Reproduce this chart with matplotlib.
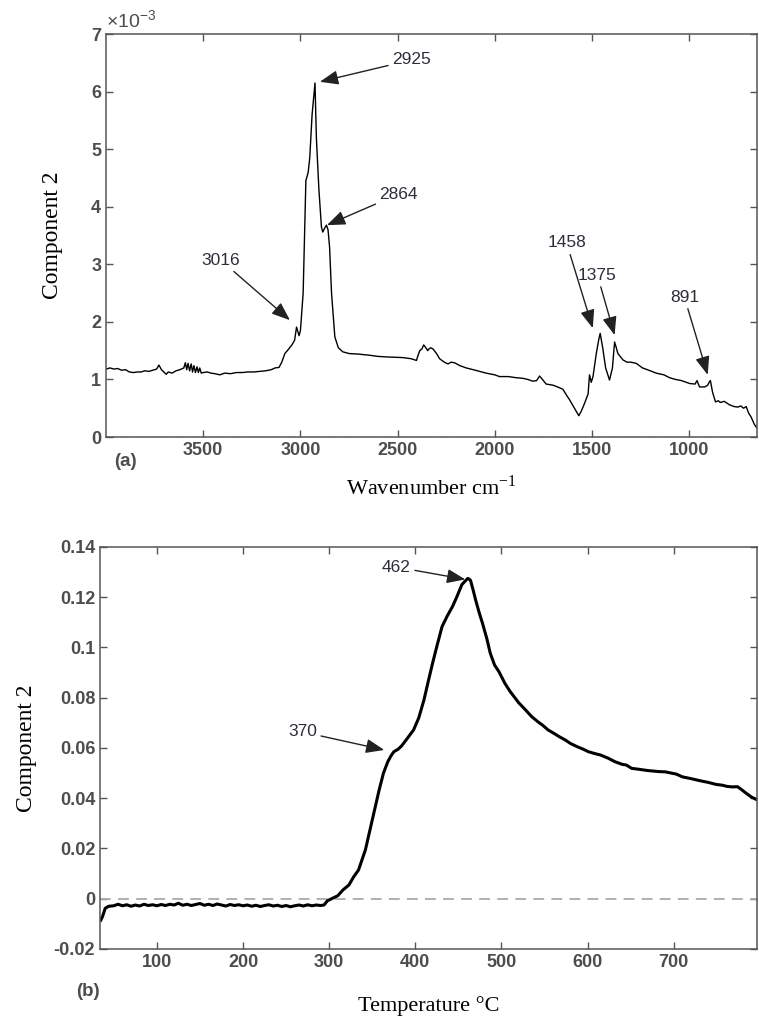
"""Two-panel figure: FTIR loading (a) and temperature profile (b) of component 2."""
import matplotlib
matplotlib.use("Agg")
import matplotlib.pyplot as plt

plt.rcParams["mathtext.fontset"] = "stix"

# (a) spectrum, values in units of 1e-3
wavenumber = [
    4000, 3980, 3960, 3940, 3920, 3900, 3880, 3860, 3840, 3820, 3800, 3780, 3760, 3740, 3728, 3715,
    3700, 3690, 3680, 3660, 3640, 3620, 3600, 3592, 3585, 3578, 3570, 3562, 3555, 3548, 3540, 3532,
    3525, 3518, 3510, 3500, 3480, 3460, 3440, 3414, 3390, 3360, 3330, 3300, 3270, 3240, 3210, 3180,
    3150, 3130, 3110, 3096, 3080, 3060, 3044, 3030, 3020, 3012, 3007, 3000, 2986, 2972, 2960, 2952,
    2940, 2925, 2918, 2905, 2892, 2885, 2875, 2866, 2858, 2850, 2840, 2823, 2805, 2782, 2750, 2700,
    2643, 2600, 2550, 2474, 2430, 2403, 2395, 2386, 2375, 2366, 2355, 2345, 2339, 2330, 2318, 2300,
    2284, 2260, 2241, 2225, 2207, 2180, 2147, 2100, 2045, 2000, 1976, 1930, 1890, 1856, 1830, 1805,
    1785, 1770, 1755, 1736, 1700, 1670, 1650, 1630, 1616, 1590, 1568, 1555, 1539, 1520, 1513, 1504,
    1495, 1478, 1465, 1458, 1445, 1430, 1410, 1395, 1384, 1375, 1367, 1355, 1341, 1320, 1300, 1273,
    1240, 1200, 1170, 1130, 1101, 1070, 1040, 998, 970, 960, 947, 920, 905, 896, 891, 880,
    865, 850, 840, 820, 793, 770, 750, 735, 720, 707, 695, 682, 665, 650,
]
loading = [
    1.18, 1.20, 1.18, 1.19, 1.16, 1.17, 1.13, 1.12, 1.13, 1.13, 1.15, 1.14, 1.16, 1.18, 1.25, 1.17,
    1.12, 1.09, 1.13, 1.11, 1.15, 1.17, 1.20, 1.29, 1.17, 1.28, 1.15, 1.27, 1.13, 1.24, 1.12, 1.22,
    1.12, 1.20, 1.11, 1.12, 1.13, 1.11, 1.10, 1.08, 1.11, 1.10, 1.12, 1.12, 1.13, 1.13, 1.14, 1.15,
    1.17, 1.20, 1.21, 1.30, 1.45, 1.53, 1.60, 1.68, 1.91, 1.82, 1.76, 1.85, 2.50, 4.45, 4.60, 4.85,
    5.60, 6.15, 5.20, 4.30, 3.65, 3.56, 3.63, 3.68, 3.60, 3.30, 2.50, 1.74, 1.55, 1.48, 1.45, 1.44,
    1.42, 1.40, 1.39, 1.38, 1.36, 1.33, 1.42, 1.50, 1.53, 1.60, 1.55, 1.50, 1.53, 1.55, 1.53, 1.45,
    1.36, 1.30, 1.27, 1.30, 1.29, 1.24, 1.20, 1.16, 1.11, 1.08, 1.05, 1.05, 1.03, 1.02, 1.00, 0.97,
    0.98, 1.06, 1.00, 0.92, 0.90, 0.86, 0.83, 0.72, 0.65, 0.50, 0.37, 0.45, 0.58, 0.75, 1.08, 0.95,
    1.05, 1.45, 1.70, 1.80, 1.55, 1.20, 0.99, 1.20, 1.65, 1.55, 1.45, 1.40, 1.34, 1.30, 1.30, 1.28,
    1.20, 1.15, 1.11, 1.08, 1.03, 1.00, 0.98, 0.93, 0.92, 0.98, 0.87, 0.87, 0.90, 0.96, 0.98, 0.78,
    0.61, 0.63, 0.60, 0.62, 0.56, 0.53, 0.52, 0.54, 0.50, 0.53, 0.42, 0.35, 0.22, 0.15,
]
peaks_a = [
    # label, arrow tip (wn, y), text centre (wn, y)
    ("2925", (2900, 6.17), (2428, 6.55)),
    ("2864", (2864, 3.68), (2494, 4.22)),
    ("3016", (3054, 2.03), (3409, 3.07)),
    ("1458", (1496, 1.89), (1631, 3.37)),
    ("1375", (1384, 1.77), (1472, 2.81)),
    ("891", (905, 1.08), (1025, 2.43)),
]

# (b) temperature profile
temperature = [
    35, 37, 40, 44, 50, 55, 60, 65, 70, 75, 80, 85, 90, 95, 100, 105, 110, 115, 120, 125, 130, 135,
    140, 145, 150, 155, 160, 165, 170, 175, 180, 185, 190, 195, 200, 205, 210, 215, 220, 225, 230,
    235, 240, 245, 250, 255, 260, 265, 270, 275, 280, 285, 290, 294, 298, 304, 310, 316, 323, 328,
    334, 342, 350, 358, 363, 368, 372, 375, 380, 384, 390, 398, 404, 410, 415, 420, 425, 431, 437,
    443, 448, 454, 458, 461, 464, 467, 470, 474, 478, 483, 487, 492, 497, 504, 510, 516, 520, 527,
    535, 542, 548, 554, 560, 567, 574, 580, 588, 595, 601, 608, 615, 624, 632, 640, 645, 651, 660,
    670, 683, 690, 697, 703, 710, 720, 730, 740, 749, 756, 762, 768, 774, 778, 784, 790, 797,
]
profile = [
    -0.0085, -0.0070, -0.0038, -0.0030, -0.0028, -0.0022, -0.0028, -0.0024, -0.0030, -0.0025,
    -0.0029, -0.0022, -0.0027, -0.0024, -0.0028, -0.0023, -0.0027, -0.0022, -0.0025, -0.0018,
    -0.0026, -0.0022, -0.0027, -0.0023, -0.0019, -0.0026, -0.0022, -0.0027, -0.0021, -0.0025,
    -0.0029, -0.0023, -0.0027, -0.0024, -0.0028, -0.0025, -0.0030, -0.0026, -0.0031, -0.0027,
    -0.0024, -0.0029, -0.0026, -0.0031, -0.0027, -0.0032, -0.0028, -0.0025, -0.0029, -0.0024,
    -0.0028, -0.0025, -0.0027, -0.0025, -0.0008, 0.0002, 0.0012, 0.0035, 0.0055, 0.0085,
    0.0114, 0.0194, 0.0313, 0.0433, 0.0500, 0.0545, 0.0570, 0.0585, 0.0595, 0.0608, 0.0635,
    0.0672, 0.0720, 0.0791, 0.0865, 0.0937, 0.1005, 0.1083, 0.1125, 0.1162, 0.1200, 0.1250,
    0.1265, 0.1275, 0.1268, 0.1230, 0.1189, 0.1140, 0.1096, 0.1035, 0.0977, 0.0930, 0.0904,
    0.0857, 0.0825, 0.0798, 0.0780, 0.0755, 0.0725, 0.0705, 0.0690, 0.0672, 0.0660, 0.0645,
    0.0632, 0.0618, 0.0605, 0.0595, 0.0585, 0.0578, 0.0572, 0.0559, 0.0545, 0.0535, 0.0532,
    0.0519, 0.0515, 0.0510, 0.0506, 0.0505, 0.0500, 0.0496, 0.0485, 0.0478, 0.0470, 0.0463,
    0.0455, 0.0452, 0.0447, 0.0445, 0.0446, 0.0436, 0.0420, 0.0405, 0.0393,
]
peaks_b = [
    ("462", (458, 0.1271), (378, 0.132)),
    ("370", (364, 0.0592), (269, 0.0664)),
]

TICK_COLOR = "#4d4d4d"
TEXT_COLOR = "#2e2e3a"
SANS = ["Liberation Sans", "DejaVu Sans"]
SERIF = ["Liberation Serif", "DejaVu Serif"]


def style_axes(ax):
    for side in ("top", "bottom", "left", "right"):
        ax.spines[side].set_color("#555555")
        ax.spines[side].set_linewidth(1.1)
    ax.tick_params(direction="in", length=5, width=1, colors="#555555",
                   top=True, right=True, labelsize=13, labelcolor=TICK_COLOR)
    for lab in ax.get_xticklabels() + ax.get_yticklabels():
        lab.set_fontweight("bold")
        lab.set_family(SANS)


def add_peaks(ax, peaks):
    for label, tip, text in peaks:
        ax.annotate(label, xy=tip, xytext=text, ha="center", va="center",
                    fontsize=12.5, color=TEXT_COLOR, family=SANS,
                    arrowprops=dict(arrowstyle="-|>,head_length=0.9,head_width=0.35",
                                    color="#222222", lw=1.0, shrinkA=1, shrinkB=0))


fig = plt.figure(figsize=(7.59, 10.18), dpi=100)

# --- panel (a)
ax1 = fig.add_axes([0.1397, 0.5707, 0.858, 0.3959])
ax1.axhline(0, color="#aaaaaa", lw=1, ls=(0, (6, 4)))
ax1.plot(wavenumber, loading, color="black", lw=1.0)
ax1.set_xlim(4000, 650)
ax1.set_ylim(0, 7)
ax1.set_xticks([3500, 3000, 2500, 2000, 1500, 1000])
ax1.set_yticks(range(0, 8))
style_axes(ax1)
add_peaks(ax1, peaks_a)
ax1.text(0.0, 1.005, "×10$^{\\mathregular{-3}}$", transform=ax1.transAxes, fontsize=14,
         color=TICK_COLOR, ha="left", va="bottom", family=SANS)
ax1.set_ylabel("Component 2", family=SERIF, fontsize=17, labelpad=20)
ax1.set_xlabel("Wavenumber cm$^{\\mathregular{-1}}$", family=SERIF, fontsize=16, labelpad=12)
fig.text(125 / 759, 1 - 462 / 1018, "(a)", fontsize=13.5, fontweight="bold",
         color=TICK_COLOR, ha="center", va="center", family=SANS)

# --- panel (b)
ax2 = fig.add_axes([0.1318, 0.0678, 0.866, 0.3949])
ax2.axhline(0, color="#aaaaaa", lw=1.3, ls=(0, (6, 4)))
ax2.plot(temperature, profile, color="black", lw=2.2)
ax2.set_xlim(34, 797)
ax2.set_ylim(-0.02, 0.14)
ax2.set_xticks([100, 200, 300, 400, 500, 600, 700])
ax2.set_yticks([-0.02, 0, 0.02, 0.04, 0.06, 0.08, 0.10, 0.12, 0.14])
ax2.set_yticklabels(["-0.02", "0", "0.02", "0.04", "0.06", "0.08", "0.1", "0.12", "0.14"])
style_axes(ax2)
add_peaks(ax2, peaks_b)
ax2.set_ylabel("Component 2", family=SERIF, fontsize=17, labelpad=12)
ax2.set_xlabel("Temperature °C", family=SERIF, fontsize=16, labelpad=18)
fig.text(88 / 759, 1 - 992 / 1018, "(b)", fontsize=13.5, fontweight="bold",
         color=TICK_COLOR, ha="center", va="center", family=SANS)

fig.savefig("out.png", dpi=100, facecolor="white")
